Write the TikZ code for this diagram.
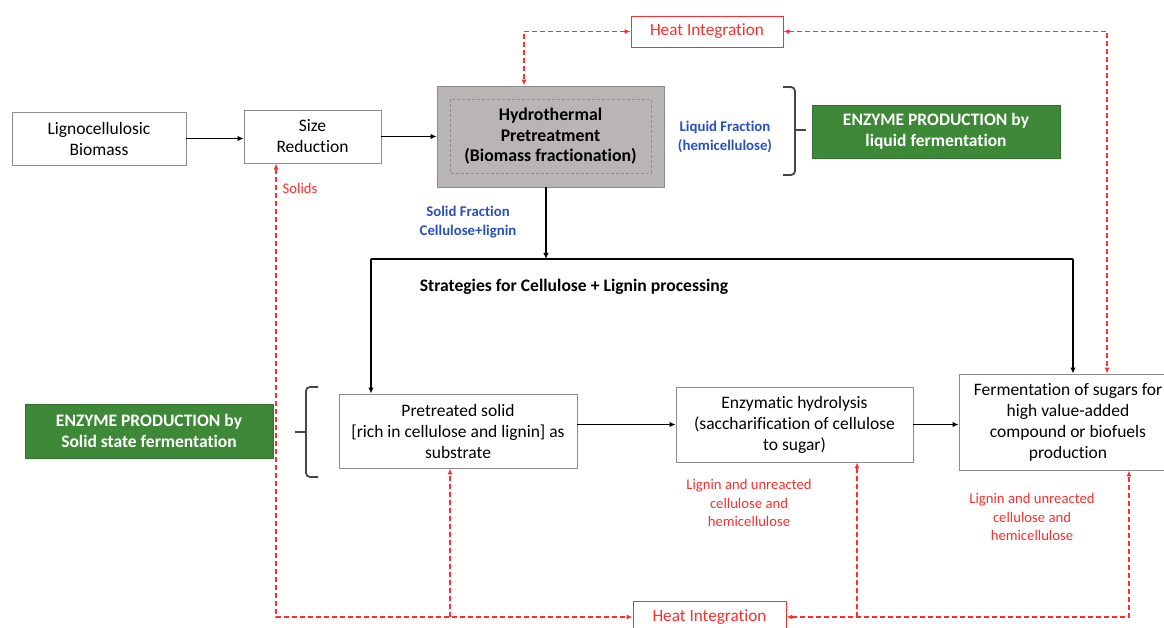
\documentclass[tikz,border=0pt]{standalone}
\usepackage{fontspec}
\setmainfont{Carlito}[Ligatures={NoCommon}]
\usetikzlibrary{arrows.meta,calc}
\definecolor{boxline}{RGB}{140,140,140}
\definecolor{hydrofill}{RGB}{186,181,181}
\definecolor{enzgreen}{RGB}{62,137,56}
\definecolor{heatred}{RGB}{255,45,45}
\definecolor{fracblue}{RGB}{40,80,190}
\definecolor{bracegray}{RGB}{70,70,70}
\tikzset{
  box/.style={draw=boxline, line width=0.9pt, fill=white, align=center, inner sep=2pt,
              font=\fontsize{17.5}{21}\selectfont},
  hydrobox/.style={draw=boxline, line width=0.9pt, fill=hydrofill, align=center,
              font=\fontsize{17.8}{20.5}\selectfont\bfseries},
  greenbox/.style={fill=enzgreen, draw=enzgreen!80!black, line width=0.5pt, text=white, align=center,
              font=\fontsize{17.5}{21}\selectfont\bfseries},
  heatbox/.style={draw=heatred, line width=0.9pt, fill=white, text=heatred, align=center,
              font=\fontsize{17.2}{19}\selectfont},
  bluetxt/.style={text=fracblue, align=center, font=\fontsize{14.8}{19}\selectfont\bfseries},
  redtxt/.style={text=heatred, align=center, font=\fontsize{14.7}{18.5}\selectfont},
  boldtxt/.style={align=center, font=\fontsize{17.6}{19}\selectfont\bfseries},
  arr/.style={line width=1.5pt, -{Latex[length=6pt,width=5.5pt]}},
  plainline/.style={line width=1.5pt},
  rarr/.style={heatred, line width=1.1pt, dash pattern=on 5pt off 3pt, -{Latex[length=6pt,width=5pt]}},
  rarrboth/.style={heatred, line width=1.1pt, dash pattern=on 5pt off 3pt, {Latex[length=6pt,width=5pt]}-{Latex[length=6pt,width=5pt]}},
  bracestyle/.style={draw=bracegray, line width=1.8pt, rounded corners=4pt}
}
\begin{document}
\begin{tikzpicture}[x=1pt,y=-1pt]
\useasboundingbox (0,0) rectangle (1164,628);
\clip (0,0) rectangle (1164,628);

% boxes
\node[box, minimum width=174pt, minimum height=53pt] (ligno) at (99,138.5) {Lignocellulosic\\Biomass};
\node[box, minimum width=137pt, minimum height=53pt] (size) at (312.5,136.5) {Size\\Reduction};
\node[hydrobox, minimum width=227pt, minimum height=101pt] (hydro) at (550.5,136.5) {Hydrothermal\\Pretreatment\\(Biomass fractionation)};
\draw[boxline, line width=0.7pt, dash pattern=on 3pt off 2pt] (450,99) rectangle (651,173);
\node[heatbox, minimum width=152pt, minimum height=31pt] (heattop) at (707,31.5) {Heat Integration};
\node[bluetxt] (liquid) at (725,136.5) {Liquid Fraction\\(hemicellulose)};
\node[greenbox, minimum width=248pt, minimum height=53pt] (greentop) at (936,131.5) {ENZYME PRODUCTION by\\liquid fermentation};
\node[bluetxt] (solidfrac) at (468,222.5) {Solid Fraction\\Cellulose+lignin};
\node[boldtxt] (strat) at (574,287) {Strategies for Cellulose + Lignin processing};
\node[greenbox, minimum width=248pt, minimum height=54pt] (greenbot) at (149,431) {ENZYME PRODUCTION by\\Solid state fermentation};
\node[box, minimum width=238pt, minimum height=74pt] (pretreated) at (458,431) {Pretreated solid\\{[rich in cellulose and lignin]} as\\substrate};
\node[box, minimum width=237pt, minimum height=75pt] (enzymatic) at (794.5,424.5) {Enzymatic hydrolysis\\(saccharification of cellulose\\to sugar)};
\node[box, minimum width=218pt, minimum height=96pt] (ferm) at (1068,422) {Fermentation of sugars for\\high value-added\\compound or biofuels\\production};
\node[redtxt] (lig1) at (749,503) {Lignin and unreacted\\cellulose and\\hemicellulose};
\node[redtxt] (lig2) at (1032,517) {Lignin and unreacted\\cellulose and\\hemicellulose};
\node[heatbox, minimum width=153pt, minimum height=32pt] (heatbot) at (709.5,617) {Heat Integration};
\node[redtxt] (solids) at (300,188) {Solids};

% braces
\draw[bracestyle] (783,87) -- (795,87) -- (795,175) -- (783,175);
\draw[draw=bracegray, line width=1.8pt] (795,130) -- (806,130);
\draw[bracestyle] (318,387) -- (306,387) -- (306,477) -- (318,477);
\draw[draw=bracegray, line width=1.8pt] (306,432) -- (295,432);

% black connectors
\draw[arr] (ligno.east) -- (ligno.east -| size.west);
\draw[arr] (size.east) -- (size.east -| hydro.west);
\coordinate (split) at (546,259);
\coordinate (jl) at (371,259);
\coordinate (jr) at (1073,259);
\draw[arr] (hydro.south -| split) -- (split);
\draw[plainline] (jl) -- (jr);
\draw[arr] (jl) -- (jl |- pretreated.north);
\draw[arr] (jr) -- (jr |- ferm.north);
\draw[arr] (pretreated.east |- enzymatic.west) -- (enzymatic.west);
\draw[arr] (enzymatic.east) -- (enzymatic.east -| ferm.west);

% red dashed connectors
\coordinate (tl) at (524,32);
\coordinate (tr) at (1107,32);
\draw[rarrboth] (heattop.west) -| (tl |- hydro.north);
\draw[rarrboth] (heattop.east) -| (tr |- ferm.north);
\coordinate (bl) at (276,617);
\coordinate (bm) at (450,617);
\coordinate (br) at (1129,617);
\coordinate (bn) at (857,617);
\draw[rarrboth] (bl |- size.south) -- (bl) -- (heatbot.west);
\draw[rarr] (bm) -- (bm |- pretreated.south);
\draw[rarrboth] (heatbot.east) -- (br) -- (br |- ferm.south);
\draw[rarr] (bn) -- (bn |- enzymatic.south);
\end{tikzpicture}
\end{document}
